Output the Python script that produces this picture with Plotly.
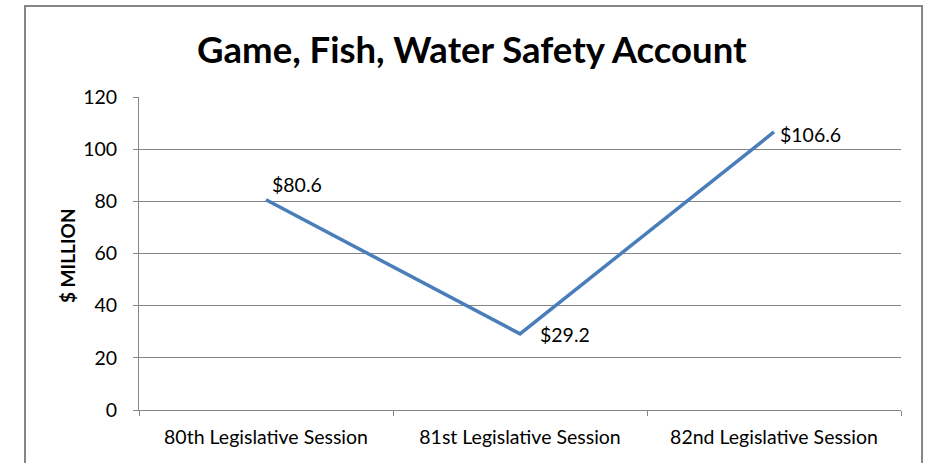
import plotly.graph_objects as go

categories = ["80th Legislative Session", "81st Legislative Session", "82nd Legislative Session"]
values = [80.6, 29.2, 106.6]
value_labels = ["$80.6", "$29.2", "$106.6"]
y_ticks = [0, 20, 40, 60, 80, 100, 120]

# label offsets (pixels) - style only
label_xshift = [4, 18, 4]
label_yshift = [15, -1, -3]

FONT = "Lato, Open Sans, sans-serif"
axis_gray = "#868686"

fig = go.Figure()
fig.add_trace(go.Scatter(
    x=categories, y=values, mode="lines",
    line=dict(color="#4A7EBB", width=3.5),
    hoverinfo="skip", showlegend=False,
))

annotations = []
for c, v, t, xs, ys in zip(categories, values, value_labels, label_xshift, label_yshift):
    annotations.append(dict(x=c, y=v, xref="x", yref="y", text=t, showarrow=False,
                            xanchor="left", yanchor="middle", xshift=xs, yshift=ys,
                            font=dict(family=FONT, size=19.5, color="#000000")))
annotations.append(dict(x=-0.0945, y=0.495, xref="paper", yref="paper",
                        text="<b>$ MILLION</b>", showarrow=False, textangle=-90,
                        xanchor="center", yanchor="middle",
                        font=dict(family=FONT, size=19, color="#000000")))

fig.update_layout(
    width=927, height=463,
    margin=dict(l=139, r=26, t=97, b=53, autoexpand=False),
    paper_bgcolor="white", plot_bgcolor="white",
    title=dict(text="<b>Game, Fish, Water Safety Account</b>", x=0.509, xanchor="center",
               xref="container", yref="container",
               y=0.892, yanchor="middle",
               font=dict(family=FONT, size=36.5, color="#000000")),
    font=dict(family=FONT, size=19.5, color="#000000"),
    xaxis=dict(type="category", tickson="boundaries", ticks="outside", ticklen=5,
               tickcolor=axis_gray, showline=True, linecolor=axis_gray, linewidth=1,
               showgrid=False, tickfont=dict(size=19.5), range=[-0.5, 2.5],
               ticklabelstandoff=10),
    yaxis=dict(range=[0, 120], tickvals=y_ticks, ticks="outside", ticklen=5,
               tickcolor=axis_gray, showline=True, linecolor=axis_gray, linewidth=1,
               showgrid=True, gridcolor=axis_gray, gridwidth=1, zeroline=False,
               tickfont=dict(size=19.5), ticklabelstandoff=12),
    annotations=annotations,
    shapes=[dict(type="rect", xref="paper", yref="paper",
                 x0=-0.1496, x1=1.0276, y0=-0.3, y1=1.2907,
                 line=dict(color=axis_gray, width=2), fillcolor="rgba(0,0,0,0)", layer="below")],
)

fig.write_html("out.html", config={"displayModeBar": False},
               post_script="document.body.style.margin='0';document.body.style.overflow='hidden';")
